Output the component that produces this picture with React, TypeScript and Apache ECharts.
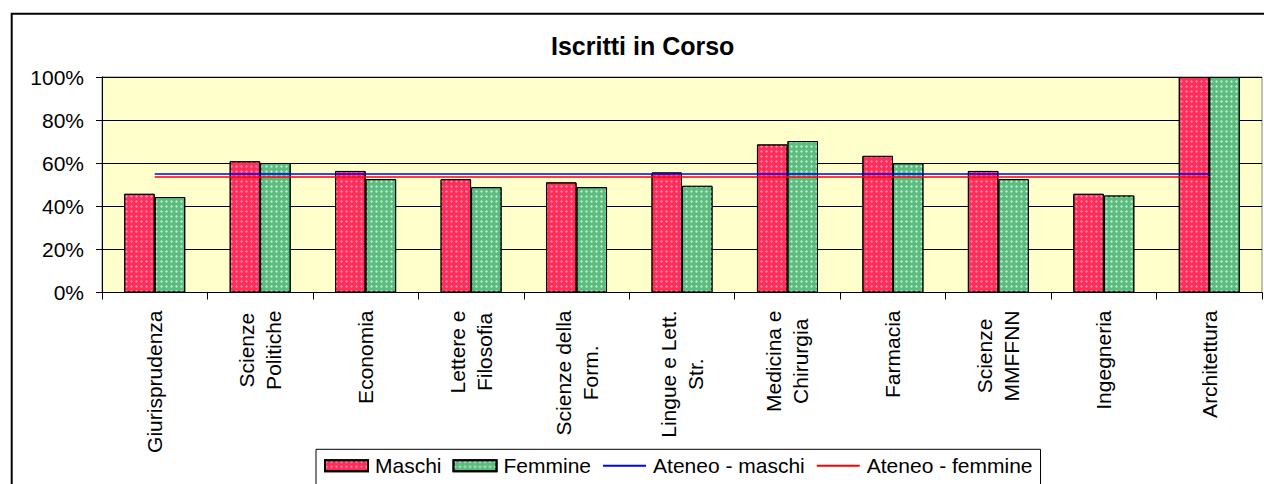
import React, { useEffect, useRef } from "react";
import * as echarts from "echarts";

const categories = [
  "Giurisprudenza",
  "Scienze\nPolitiche",
  "Economia",
  "Lettere e\nFilosofia",
  "Scienze della\nForm.",
  "Lingue e Lett.\nStr.",
  "Medicina e\nChirurgia",
  "Farmacia",
  "Scienze\nMMFFNN",
  "Ingegneria",
  "Architettura",
];
const maschi = [45.8, 60.9, 56.4, 52.6, 51.1, 55.7, 68.7, 63.4, 56.4, 45.8, 100];
const femmine = [44.3, 60.1, 52.6, 48.9, 48.9, 49.5, 70.3, 60.0, 52.6, 45.0, 100];
const ateneoMaschi = [55.0, 55.0, 55.0, 55.0, 55.0, 55.0, 55.0, 55.0, 55.0, 55.0, 55.0];
const ateneoFemmine = [53.6, 53.6, 53.6, 53.6, 53.6, 53.6, 53.6, 53.6, 53.6, 53.6, 53.6];
const yTicks = [0, 20, 40, 60, 80, 100];

const FONT = '"Liberation Sans", Arial, sans-serif';

export default function App() {
  const ref = useRef<HTMLDivElement>(null);
  useEffect(() => {
    if (!ref.current) return;
    const chart = echarts.init(ref.current, undefined, { renderer: "svg" });
    chart.setOption({
      animation: false,
      backgroundColor: "#ffffff",
      textStyle: { fontFamily: FONT },
      title: {
        text: "Iscritti in Corso",
        left: 551,
        top: 33,
        padding: 0,
        textStyle: { fontFamily: FONT, fontSize: 25, fontWeight: "bold", color: "#000" },
      },
      graphic: [
        {
          type: "rect",
          shape: { x: 11.7, y: 13.8, width: 1400, height: 600 },
          style: { fill: "none", stroke: "#000", lineWidth: 2 },
          silent: true,
        },
      ],
      legend: {
        left: 316,
        top: 449.3,
        padding: [6, 8, 10, 8],
        borderColor: "#000",
        borderWidth: 1,
        itemWidth: 43,
        itemHeight: 11,
        itemGap: 11,
        textStyle: { fontFamily: FONT, fontSize: 21, color: "#000", padding: [0, 0, 0, 2] },
        data: [
          { name: "Maschi", icon: "rect" },
          { name: "Femmine", icon: "rect" },
          {
            name: "Ateneo - maschi",
            itemStyle: { color: "rgba(0,0,0,0)", borderWidth: 0, borderColor: "rgba(0,0,0,0)" },
          },
          {
            name: "Ateneo - femmine",
            itemStyle: { color: "rgba(0,0,0,0)", borderWidth: 0, borderColor: "rgba(0,0,0,0)" },
          },
        ],
      },
      grid: {
        left: 102,
        top: 77,
        width: 1160,
        height: 215.5,
        show: true,
        backgroundColor: "#FFFFCC",
        borderColor: "#808080",
        borderWidth: 1,
      },
      xAxis: {
        type: "category",
        data: categories,
        axisLine: { lineStyle: { color: "#000", width: 1 } },
        axisTick: { show: true, length: 7, lineStyle: { color: "#000" } },
        axisLabel: {
          rotate: 90,
          margin: 18,
          interval: 0,
          formatter: (v: string) =>
            v
              .split("\n")
              .map((l) => `{c|${l}}`)
              .join("\n"),
          rich: {
            c: { align: "center", fontSize: 21, lineHeight: 27, fontFamily: FONT, color: "#000" },
          },
        },
      },
      yAxis: {
        type: "value",
        min: yTicks[0],
        max: yTicks[yTicks.length - 1],
        interval: 20,
        axisLine: { show: true, lineStyle: { color: "#000", width: 1 } },
        axisTick: { show: true, length: 6, lineStyle: { color: "#000" } },
        axisLabel: {
          formatter: "{value}%",
          margin: 18,
          fontSize: 21,
          fontFamily: FONT,
          color: "#000",
        },
        splitLine: { show: true, lineStyle: { color: "#000", width: 1 } },
      },
      series: [
        {
          name: "Maschi",
          type: "bar",
          data: maschi,
          barWidth: 30.5,
          barGap: "0%",
          itemStyle: {
            color: "#FF2E58",
            borderColor: "#000",
            borderWidth: 1,
            decal: {
              symbol: "diamond",
              symbolSize: 1,
              color: "rgba(255,150,190,0.8)",
              dashArrayX: [3, 2],
              dashArrayY: [3, 2],
            },
          },
        },
        {
          name: "Femmine",
          type: "bar",
          data: femmine,
          barWidth: 30.5,
          barGap: "0%",
          itemStyle: {
            color: "#5DBB80",
            borderColor: "#000",
            borderWidth: 1,
            decal: {
              symbol: "diamond",
              symbolSize: 1,
              color: "rgba(195,245,212,0.85)",
              dashArrayX: [3, 2],
              dashArrayY: [3, 2],
            },
          },
        },
        {
          name: "Ateneo - maschi",
          type: "line",
          data: ateneoMaschi,
          symbol: "none",
          showSymbol: false,
          lineStyle: { color: "#0000FF", width: 1.5 },
          itemStyle: { color: "#0000FF" },
          z: 5,
        },
        {
          name: "Ateneo - femmine",
          type: "line",
          data: ateneoFemmine,
          symbol: "none",
          showSymbol: false,
          lineStyle: { color: "#FF0000", width: 1.5 },
          itemStyle: { color: "#FF0000" },
          z: 5,
        },
      ],
    });
    return () => chart.dispose();
  }, []);
  return (
    <div
      ref={ref}
      style={{ position: "fixed", left: 0, top: 0, width: 1264, height: 484 }}
    />
  );
}
